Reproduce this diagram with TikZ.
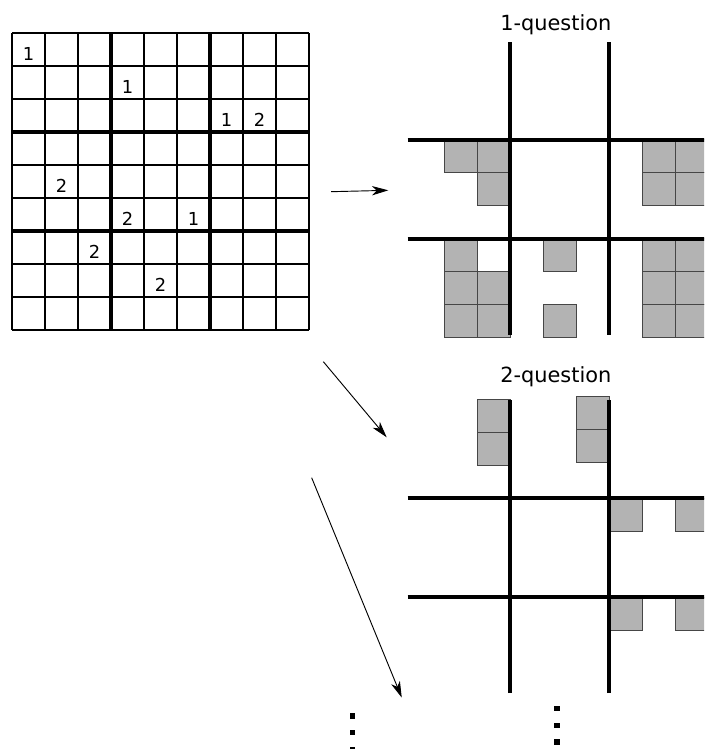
\documentclass[tikz,border=0pt]{standalone}
\usepackage{fontspec}
\setmainfont{DejaVu Sans}
\usetikzlibrary{arrows.meta}
\definecolor{candgray}{RGB}{179,179,179}
\definecolor{candedge}{RGB}{70,70,70}

\begin{document}
\begin{tikzpicture}[
	thinline/.style={line width=1pt},
	boxline/.style={line width=3.4pt},
	cand/.style={draw=candedge, fill=candgray, line width=0.8pt},
	arr/.style={-{Stealth[length=14pt, width=8pt, inset=4pt]}, line width=0.8pt},
	digit/.style={anchor=base, inner sep=0pt, font=\fontsize{15.4}{18}\selectfont},
	title/.style={anchor=base, inner sep=0pt, font=\fontsize{18}{22}\selectfont},
	vdot/.style={shape=rectangle, fill=black, inner sep=0pt, minimum size=0.17cm}]
	\useasboundingbox (-0.364, -12.697) rectangle (20.97, 10);
	\clip (-0.364, -12.697) rectangle (20.97, 10);
	% Sudoku grid and digits:
	\draw[thinline] (0, 0) grid (9, 9);
	\draw[boxline] (3, 0) -- (3, 9);
	\draw[boxline] (6, 0) -- (6, 9);
	\draw[boxline] (0, 3) -- (9, 3);
	\draw[boxline] (0, 6) -- (9, 6);
	\node[digit] (d11) at (0.5, 8.155) {1};
	\node[digit] (d24) at (3.5, 7.155) {1};
	\node[digit] (d37) at (6.5, 6.155) {1};
	\node[digit] (d38) at (7.5, 6.155) {2};
	\node[digit] (d52) at (1.5, 4.155) {2};
	\node[digit] (d64) at (3.5, 3.155) {2};
	\node[digit] (d66) at (5.5, 3.155) {1};
	\node[digit] (d73) at (2.5, 2.155) {2};
	\node[digit] (d85) at (4.5, 1.155) {2};
	% 1-question:
	\node[title] (qone) at (16.48, 9.09) {1-question};
	\begin{scope}[shift={(12.09, -0.24)}]
		\draw[cand] (1, 5) rectangle (2, 6);
		\draw[cand] (2, 5) rectangle (3, 6);
		\draw[cand] (2, 4) rectangle (3, 5);
		\draw[cand] (7, 5) rectangle (8, 6);
		\draw[cand] (8, 5) rectangle (9, 6);
		\draw[cand] (7, 4) rectangle (8, 5);
		\draw[cand] (8, 4) rectangle (9, 5);
		\draw[cand] (1, 2) rectangle (2, 3);
		\draw[cand] (1, 1) rectangle (2, 2);
		\draw[cand] (2, 1) rectangle (3, 2);
		\draw[cand] (1, 0) rectangle (2, 1);
		\draw[cand] (2, 0) rectangle (3, 1);
		\draw[cand] (4, 2) rectangle (5, 3);
		\draw[cand] (4, 0) rectangle (5, 1);
		\draw[cand] (7, 2) rectangle (8, 3);
		\draw[cand] (8, 2) rectangle (9, 3);
		\draw[cand] (7, 1) rectangle (8, 2);
		\draw[cand] (8, 1) rectangle (9, 2);
		\draw[cand] (7, 0) rectangle (8, 1);
		\draw[cand] (8, 0) rectangle (9, 1);
		\draw[boxline] (3, 0.09) -- (3, 8.97);
		\draw[boxline] (6, 0.09) -- (6, 8.97);
		\draw[boxline] (-0.1, 6) -- (9, 6);
		\draw[boxline] (-0.1, 3) -- (9, 3);
	\end{scope}
	% 2-question:
	\node[title] (qtwo) at (16.48, -1.585) {2-question};
	\begin{scope}[shift={(12.09, -11.09)}]
		\draw[cand] (2, 8) rectangle (3, 9);
		\draw[cand] (2, 7) rectangle (3, 8);
		\draw[cand] (5, 8.09) rectangle (6, 9.09);
		\draw[cand] (5, 7.09) rectangle (6, 8.09);
		\draw[cand] (6, 5) rectangle (7, 6);
		\draw[cand] (8, 5) rectangle (9, 6);
		\draw[cand] (6, 2) rectangle (7, 3);
		\draw[cand] (8, 2) rectangle (9, 3);
		\draw[boxline] (3, 0.09) -- (3, 8.97);
		\draw[boxline] (6, 0.09) -- (6, 8.97);
		\draw[boxline] (-0.1, 6) -- (9, 6);
		\draw[boxline] (-0.1, 3) -- (9, 3);
	\end{scope}
	% Arrows and dots:
	\coordinate (aones) at (9.667, 4.191);
	\coordinate (aonee) at (11.403, 4.233);
	\coordinate (atwos) at (9.434, -0.960);
	\coordinate (atwoe) at (11.354, -3.252);
	\coordinate (amores) at (9.08, -4.476);
	\coordinate (amoree) at (11.81, -11.14);
	\draw[arr] (aones) -- (aonee);
	\draw[arr] (atwos) -- (atwoe);
	\draw[arr] (amores) -- (amoree);
	\node[vdot] (la) at (10.32, -11.697) {};
	\node[vdot] (lb) at (10.32, -12.20) {};
	\node[vdot] (lc) at (10.32, -12.707) {};
	\node[vdot] (ra) at (16.51, -11.47) {};
	\node[vdot] (rb) at (16.51, -11.98) {};
	\node[vdot] (rc) at (16.51, -12.48) {};
\end{tikzpicture}
\end{document}
